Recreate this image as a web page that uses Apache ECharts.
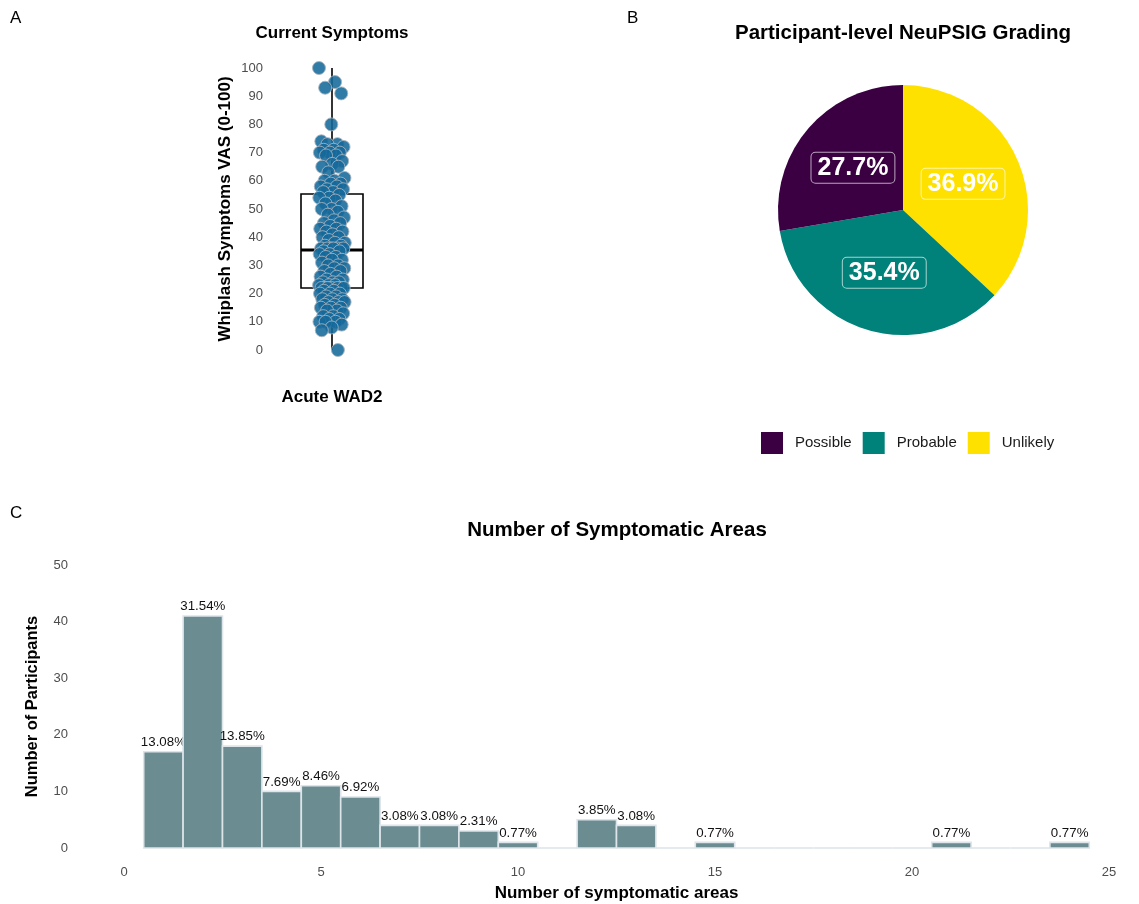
<!DOCTYPE html>
<html>
<head>
<meta charset="utf-8">
<script src="https://cdn.jsdelivr.net/npm/echarts@6/dist/echarts.min.js"></script>
<style>
  html, body { margin: 0; padding: 0; background: #fff; }
  #chart { width: 1139px; height: 904px; }
</style>
</head>
<body>
<div id="chart"></div>
<script>
// Panel A: current whiplash symptom VAS scores (0-100), one per participant
const vasScores = [
  100, 95, 93, 91, 80, 74, 73, 73, 72, 71, 71, 70, 70, 70, 69, 69, 67, 66, 65, 65,
  63, 61, 60, 60, 59, 59, 58, 58, 57, 57, 56, 56,
  55, 54, 54, 53, 52, 51, 50, 50, 49, 48, 47, 46, 45, 45, 44, 43, 43, 42, 42, 41,
  40, 40, 39, 38, 38, 37, 37, 36, 36, 36, 36, 36, 36,
  35, 35, 34, 34, 33, 33, 32, 32, 31, 30, 30, 29, 29, 28, 28, 27, 26, 26, 25, 25,
  24, 24, 24, 23, 23, 23, 22, 22, 22, 22, 22, 22, 22,
  21, 21, 20, 20, 20, 19, 19, 18, 18, 18, 17, 17, 17, 16, 16, 15, 15, 15, 14, 14,
  13, 12, 12, 11, 11, 10, 10, 10, 9, 8, 7, 0
];
// Box summary: [whisker low, Q1, median, Q3, whisker high]
const vasBox = [0, 22, 35.5, 55.3, 100];
const vasGroup = 'Acute WAD2';

// Panel B: NeuPSIG grading
const gradeNames = ['Unlikely', 'Probable', 'Possible'];
const gradeCounts = [48, 46, 36];
const gradeColors = ['#ffe100', '#00827a', '#3a0042'];
const legendOrder = ['Possible', 'Probable', 'Unlikely'];

// Panel C: histogram of symptomatic areas (bin centre, participants)
const areaBins = [1, 2, 3, 4, 5, 6, 7, 8, 9, 10, 11, 12, 13, 14, 15, 16, 17, 18, 19, 20, 21, 22, 23, 24];
const areaCounts = [17, 41, 18, 10, 11, 9, 4, 4, 3, 1, 0, 5, 4, 0, 1, 0, 0, 0, 0, 0, 1, 0, 0, 1];

const FONT = '"Liberation Sans", Arial, Helvetica, sans-serif';
const AXIS_GREY = '#4d4d4d';

// deterministic horizontal spread for the strip points
const jitterData = vasScores.map((v, i) => {
  const f = (i * 0.6180339887) % 1;
  return [(f - 0.5) * 0.42, v];
});

const totalAreas = areaCounts.reduce((a, b) => a + b, 0);
const histData = areaBins.map((b, i) => [b, areaCounts[i]]);

const pieData = gradeNames.map((n, i) => ({
  name: n,
  value: gradeCounts[i],
  itemStyle: { color: gradeColors[i] },
  label: { backgroundColor: gradeColors[i] }
}));
const gradeTotal = gradeCounts.reduce((a, b) => a + b, 0);

const chart = echarts.init(document.getElementById('chart'), null, { renderer: 'canvas' });

const titleBase = { padding: 0, textAlign: 'center' };
const boldName = (size) => ({ fontSize: size, fontWeight: 'bold', color: '#000', fontFamily: FONT });
const option = {
  animation: false,
  backgroundColor: '#ffffff',
  textStyle: { fontFamily: FONT },
  title: [
    { text: 'A', left: 10, top: 10, padding: 0, textStyle: { fontSize: 17, fontWeight: 'normal', color: '#000', fontFamily: FONT } },
    { text: 'B', left: 627, top: 10, padding: 0, textStyle: { fontSize: 17, fontWeight: 'normal', color: '#000', fontFamily: FONT } },
    { text: 'C', left: 10, top: 505, padding: 0, textStyle: { fontSize: 17, fontWeight: 'normal', color: '#000', fontFamily: FONT } },
    Object.assign({ text: 'Current Symptoms', left: 332, top: 25, textStyle: boldName(17) }, titleBase),
    Object.assign({ text: 'Participant-level NeuPSIG Grading', left: 903, top: 23, textStyle: boldName(20.5) }, titleBase),
    Object.assign({ text: 'Number of Symptomatic Areas', left: 617, top: 520, textStyle: boldName(20.5) }, titleBase)
  ],
  legend: {
    data: legendOrder,
    left: 761,
    top: 432,
    padding: 0,
    itemWidth: 22,
    itemHeight: 22,
    itemGap: 11,
    icon: 'rect',
    selectedMode: false,
    textStyle: { fontSize: 15, color: '#1a1a1a', fontFamily: FONT, padding: [0, 0, 0, 7] }
  },
  grid: [
    { left: 270, top: 68, width: 124, height: 282 },
    { left: 124, top: 565, width: 985, height: 283 }
  ],
  xAxis: [
    {
      gridIndex: 0, type: 'value', min: -1, max: 1,
      name: vasGroup, nameLocation: 'middle', nameGap: 39,
      nameTextStyle: boldName(17),
      axisLine: { show: false }, axisTick: { show: false }, axisLabel: { show: false }, splitLine: { show: false }
    },
    {
      gridIndex: 1, type: 'value', min: 0, max: 25, interval: 5,
      name: 'Number of symptomatic areas', nameLocation: 'middle', nameGap: 37,
      nameTextStyle: boldName(17),
      axisLine: { show: false }, axisTick: { show: false }, splitLine: { show: false },
      axisLabel: { color: AXIS_GREY, fontSize: 13, margin: 18, fontFamily: FONT }
    }
  ],
  yAxis: [
    {
      gridIndex: 0, type: 'value', min: 0, max: 100, interval: 10,
      name: 'Whiplash Symptoms VAS (0-100)', nameLocation: 'middle', nameGap: 36,
      nameTextStyle: boldName(17),
      axisLine: { show: false }, axisTick: { show: false }, splitLine: { show: false },
      axisLabel: { color: AXIS_GREY, fontSize: 13, margin: 7, fontFamily: FONT }
    },
    {
      gridIndex: 1, type: 'value', min: 0, max: 50, interval: 10,
      name: 'Number of Participants', nameLocation: 'middle', nameGap: 83,
      nameTextStyle: boldName(16.5),
      axisLine: { show: false }, axisTick: { show: false }, splitLine: { show: false },
      axisLabel: { color: AXIS_GREY, fontSize: 13, margin: 56, fontFamily: FONT }
    }
  ],
  series: [
    {
      // box and whiskers
      type: 'custom',
      xAxisIndex: 0, yAxisIndex: 0,
      z: 2,
      data: [[0].concat(vasBox)],
      renderItem: function (params, api) {
        const x = api.value(0);
        const half = api.size([0.5, 0])[0];
        const pLo = api.coord([x, api.value(1)]);
        const pQ1 = api.coord([x, api.value(2)]);
        const pMed = api.coord([x, api.value(3)]);
        const pQ3 = api.coord([x, api.value(4)]);
        const pHi = api.coord([x, api.value(5)]);
        const line = { stroke: '#000', lineWidth: 1.6 };
        return {
          type: 'group',
          children: [
            { type: 'line', shape: { x1: pLo[0], y1: pLo[1], x2: pQ1[0], y2: pQ1[1] }, style: line },
            { type: 'line', shape: { x1: pQ3[0], y1: pQ3[1], x2: pHi[0], y2: pHi[1] }, style: line },
            { type: 'rect', shape: { x: pQ3[0] - half, y: pQ3[1], width: half * 2, height: pQ1[1] - pQ3[1] }, style: { fill: '#fff', stroke: '#000', lineWidth: 1.6 } },
            { type: 'line', shape: { x1: pMed[0] - half, y1: pMed[1], x2: pMed[0] + half, y2: pMed[1] }, style: { stroke: '#000', lineWidth: 3 } }
          ]
        };
      }
    },
    {
      type: 'scatter',
      xAxisIndex: 0, yAxisIndex: 0,
      z: 3,
      symbolSize: 13,
      data: jitterData,
      itemStyle: { color: '#15699b', opacity: 0.88, borderColor: '#a7b3bd', borderWidth: 1 }
    },
    {
      type: 'pie',
      center: [903, 210],
      radius: [0, 125],
      startAngle: 90,
      clockwise: true,
      data: pieData,
      itemStyle: { borderWidth: 0 },
      emphasis: { disabled: true },
      label: {
        show: true,
        position: 'inside',
        formatter: function (p) { return (p.value / gradeTotal * 100).toFixed(1) + '%'; },
        color: '#fff',
        fontSize: 25,
        fontWeight: 'bold',
        fontFamily: FONT,
        borderColor: 'rgba(255,255,255,0.65)',
        borderWidth: 1,
        borderRadius: 4,
        padding: [3, 6, 2, 6]
      },
      labelLine: { show: false }
    },
    {
      // histogram bars
      type: 'custom',
      xAxisIndex: 1, yAxisIndex: 1,
      data: histData,
      renderItem: function (params, api) {
        const c = api.value(0);
        const n = api.value(1);
        const tl = api.coord([c - 0.5, n]);
        const br = api.coord([c + 0.5, 0]);
        const children = [{
          type: 'rect',
          shape: { x: tl[0], y: tl[1], width: br[0] - tl[0], height: br[1] - tl[1] },
          style: { fill: n > 0 ? '#6b8c91' : 'rgba(0,0,0,0)', stroke: '#dde4ea', lineWidth: 1.6 }
        }];
        if (n > 0) {
          children.push({
            type: 'text',
            style: {
              text: (n / totalAreas * 100).toFixed(2) + '%',
              x: (tl[0] + br[0]) / 2,
              y: tl[1] - 3,
              textAlign: 'center',
              textVerticalAlign: 'bottom',
              fill: '#111',
              fontSize: 13.3,
              fontFamily: FONT
            }
          });
        }
        return { type: 'group', children: children };
      }
    }
  ]
};
chart.setOption(option);
</script>
</body>
</html>
